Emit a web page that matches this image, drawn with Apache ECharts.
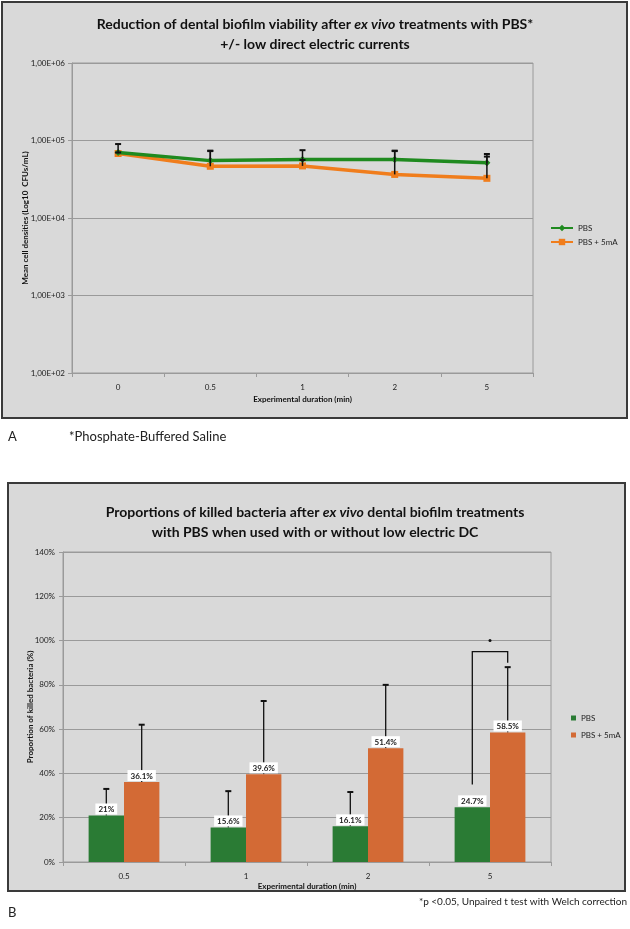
<!DOCTYPE html>
<html><head><meta charset="utf-8">
<script src="https://cdn.jsdelivr.net/npm/echarts@6/dist/echarts.min.js"></script>
<style>html,body{margin:0;padding:0;background:#fff}#c{width:630px;height:929px}</style>
</head><body><div id="c"></div>
<script>
// ---- Chart A data ----
const catsA = ['0', '0.5', '1', '2', '5'];
const pbsA = [70000, 55000, 57000, 57000, 51500];
const mAA = [68000, 46500, 47000, 36500, 32500];
const pbsAErrHigh = [90000, 74000, 75000, 74000, 67000];
const mAAErrHigh = [70000, 73000, 56000, 73000, 62000];
const yTicksA = [100, 1000, 10000, 100000, 1000000];

// ---- Chart B data ----
const catsB = ['0.5', '1', '2', '5'];
const pbsB = [21, 15.6, 16.1, 24.7];
const mAB = [36.1, 39.6, 51.4, 58.5];
const pbsBErrHigh = [33, 32, 31.6, null];
const mABErrHigh = [62, 72.7, 80, 88];
const sigBracket = [3, 35, 95, 90]; // category index, green start, bracket top, orange end (percent)
const sigStar = 100;

const FONT = 'Lato';
const GREEN_L = '#1f8a1f', ORANGE_L = '#f07d1c';
const GREEN_B = '#2a7b34', ORANGE_B = '#d36a35';
const GRID = '#9a9a9a';

const chart = echarts.init(document.getElementById('c'));

function fmtSci(v) {
  const e = Math.round(Math.log10(v));
  return '1,00E+' + (e < 10 ? '0' + e : e);
}

const errA = [];
pbsA.forEach((v, i) => errA.push([i, v, pbsAErrHigh[i]]));
mAA.forEach((v, i) => errA.push([i, v, mAAErrHigh[i]]));

function errRenderA(params, api) {
  const x = api.value(0);
  const p1 = api.coord([x, api.value(1)]);
  const p2 = api.coord([x, api.value(2)]);
  return { type: 'group', children: [
    { type: 'line', shape: { x1: p1[0], y1: p1[1], x2: p2[0], y2: p2[1] }, style: { stroke: '#111', lineWidth: 1.5 } },
    { type: 'line', shape: { x1: p2[0] - 3, y1: p2[1], x2: p2[0] + 3, y2: p2[1] }, style: { stroke: '#111', lineWidth: 2 } }
  ]};
}

const errB = [];
pbsB.forEach((v, i) => { if (pbsBErrHigh[i] != null) errB.push([i, v, pbsBErrHigh[i], -1]); });
mAB.forEach((v, i) => { if (mABErrHigh[i] != null) errB.push([i, v, mABErrHigh[i], 1]); });
const GAP = 0.42;

function errRenderB(params, api) {
  const x = api.value(0);
  const band = api.size([1, 0])[0];
  const off = api.value(3) * band * (1 - GAP) / 4;
  const p1 = api.coord([x, api.value(1)]);
  const p2 = api.coord([x, api.value(2)]);
  const cx = p1[0] + off;
  return { type: 'group', children: [
    { type: 'line', shape: { x1: cx, y1: p1[1], x2: cx, y2: p2[1] }, style: { stroke: '#111', lineWidth: 1.3 } },
    { type: 'line', shape: { x1: cx - 3, y1: p2[1], x2: cx + 3, y2: p2[1] }, style: { stroke: '#111', lineWidth: 2 } }
  ]};
}

function bracketRender(params, api) {
  const x = api.value(0);
  const band = api.size([1, 0])[0];
  const off = band * (1 - GAP) / 4;
  const c = api.coord([x, api.value(1)]);
  const yTop = api.coord([x, api.value(2)])[1];
  const yEnd = api.coord([x, api.value(3)])[1];
  const yStar = api.coord([x, sigStar])[1];
  const gx = c[0] - off, ox = c[0] + off;
  return { type: 'group', children: [
    { type: 'polyline', shape: { points: [[gx, c[1]], [gx, yTop], [ox, yTop], [ox, yEnd]] }, style: { stroke: '#111', lineWidth: 1.3, fill: null } },
    { type: 'circle', shape: { cx: c[0], cy: yStar, r: 1.5 }, style: { fill: '#111' } }
  ]};
}

const titleRich = {
  b: { fontFamily: FONT, fontWeight: 'bold', fontSize: 14, fill: '#111' },
  i: { fontFamily: FONT, fontWeight: 'bold', fontStyle: 'italic', fontSize: 14, fill: '#111' }
};
function titleText(txt, x, y) {
  return { type: 'text', z: 10, style: { text: txt, x: x, y: y, align: 'center', textAlign: 'center', verticalAlign: 'middle', rich: titleRich, fill: '#111', font: 'bold 14px ' + FONT } };
}

const option = {
  animation: false,
  textStyle: { fontFamily: FONT },
  graphic: [
    { type: 'rect', z: -10, shape: { x: 2, y: 2, width: 625, height: 416 }, style: { fill: '#d9d9d9', stroke: '#3a3a3a', lineWidth: 2 } },
    { type: 'rect', z: -10, shape: { x: 8, y: 483, width: 617, height: 408 }, style: { fill: '#d9d9d9', stroke: '#3a3a3a', lineWidth: 2 } },
    titleText('{b|Reduction of dental biofilm viability after }{i|ex vivo}{b| treatments with PBS*}', 315, 24),
    titleText('{b|+/- low direct electric currents}', 315, 44),
    titleText('{b|Proportions of killed bacteria after }{i|ex vivo}{b| dental biofilm treatments}', 315, 512),
    titleText('{b|with PBS when used with or without low electric DC}', 315, 532),
    { type: 'text', style: { text: 'A', x: 8, y: 437, verticalAlign: 'middle', font: '13px ' + FONT, fill: '#222' } },
    { type: 'text', style: { text: '*Phosphate-Buffered Saline', x: 69, y: 437, verticalAlign: 'middle', font: '13px ' + FONT, fill: '#222' } },
    { type: 'text', style: { text: 'B', x: 8, y: 913, verticalAlign: 'middle', font: '13px ' + FONT, fill: '#222' } },
    { type: 'text', style: { text: '*p <0.05, Unpaired t test with Welch correction', x: 627, y: 902, align: 'right', textAlign: 'right', verticalAlign: 'middle', font: '10px ' + FONT, fill: '#222' } }
  ],
  legend: [
    { orient: 'vertical', left: 545, top: 219, itemGap: 6, itemWidth: 22, itemHeight: 8,
      textStyle: { fontSize: 8, color: '#222', fontFamily: FONT }, data: ['PBS', 'PBS + 5mA'] },
    { orient: 'vertical', left: 566, top: 709, itemGap: 9, itemWidth: 5, itemHeight: 5, icon: 'rect',
      textStyle: { fontSize: 8, color: '#222', fontFamily: FONT }, data: ['PBS ', 'PBS + 5mA '] }
  ],
  grid: [
    { left: 72, right: 97, top: 63, bottom: 556, show: true, borderColor: GRID, borderWidth: 1, backgroundColor: 'transparent' },
    { left: 63, right: 79, top: 552, bottom: 67, show: true, borderColor: GRID, borderWidth: 1, backgroundColor: 'transparent' }
  ],
  xAxis: [
    { gridIndex: 0, type: 'category', data: catsA, boundaryGap: true,
      axisLine: { lineStyle: { color: GRID } }, axisTick: { show: true, length: 4, lineStyle: { color: GRID } },
      axisLabel: { color: '#222', fontSize: 8, margin: 10 },
      name: 'Experimental duration (min)', nameLocation: 'middle', nameGap: 22,
      nameTextStyle: { fontSize: 8, fontWeight: 'bold', color: '#111' } },
    { gridIndex: 1, type: 'category', data: catsB, boundaryGap: true,
      axisLine: { lineStyle: { color: GRID } }, axisTick: { show: true, length: 4, lineStyle: { color: GRID } },
      axisLabel: { color: '#222', fontSize: 8, margin: 10 },
      name: 'Experimental duration (min)', nameLocation: 'middle', nameGap: 20,
      nameTextStyle: { fontSize: 8, fontWeight: 'bold', color: '#111' } }
  ],
  yAxis: [
    { gridIndex: 0, type: 'log', logBase: 10, min: yTicksA[0], max: yTicksA[yTicksA.length - 1],
      axisLine: { show: true, lineStyle: { color: GRID } }, axisTick: { show: true, length: 4, lineStyle: { color: GRID } },
      splitLine: { lineStyle: { color: GRID, width: 1.2 } },
      axisLabel: { color: '#222', fontSize: 8, formatter: fmtSci, margin: 7 },
      name: 'Mean cell densities (Log10  CFUs/mL)', nameLocation: 'middle', nameGap: 43, nameMoveOverlap: false,
      nameTextStyle: { fontSize: 8, fontWeight: 'bold', color: '#111' } },
    { gridIndex: 1, type: 'value', min: 0, max: 140, interval: 20,
      axisLine: { show: true, lineStyle: { color: GRID } }, axisTick: { show: true, length: 4, lineStyle: { color: GRID } },
      splitLine: { lineStyle: { color: GRID, width: 1.2 } },
      axisLabel: { color: '#222', fontSize: 8, formatter: '{value}%', margin: 8 },
      name: 'Proportion of killed bacteria (%)', nameLocation: 'middle', nameGap: 29, nameMoveOverlap: false,
      nameTextStyle: { fontSize: 8, fontWeight: 'bold', color: '#111' } }
  ],
  series: [
    { type: 'custom', xAxisIndex: 0, yAxisIndex: 0, z: 5, renderItem: errRenderA, data: errA, silent: true },
    { name: 'PBS', type: 'line', xAxisIndex: 0, yAxisIndex: 0, data: pbsA, z: 4,
      symbol: 'diamond', symbolSize: 7, lineStyle: { color: GREEN_L, width: 3.5 }, itemStyle: { color: GREEN_L } },
    { name: 'PBS + 5mA', type: 'line', xAxisIndex: 0, yAxisIndex: 0, data: mAA, z: 3,
      symbol: 'rect', symbolSize: 7, lineStyle: { color: ORANGE_L, width: 3.5 }, itemStyle: { color: ORANGE_L } },
    { type: 'custom', xAxisIndex: 1, yAxisIndex: 1, z: 1, renderItem: errRenderB, data: errB, silent: true },
    { type: 'custom', xAxisIndex: 1, yAxisIndex: 1, z: 1, renderItem: bracketRender, data: [sigBracket], silent: true },
    { name: 'PBS ', type: 'bar', xAxisIndex: 1, yAxisIndex: 1, data: pbsB, z: 2,
      barGap: '0%', barCategoryGap: (GAP * 100) + '%', itemStyle: { color: GREEN_B },
      label: { show: true, position: 'top', distance: 1, formatter: '{c}%', backgroundColor: '#fff', padding: [2, 3, 1, 3],
        fontSize: 8, fontWeight: 'bold', color: '#222' } },
    { name: 'PBS + 5mA ', type: 'bar', xAxisIndex: 1, yAxisIndex: 1, data: mAB, z: 2,
      barGap: '0%', barCategoryGap: (GAP * 100) + '%', itemStyle: { color: ORANGE_B },
      label: { show: true, position: 'top', distance: 1, formatter: '{c}%', backgroundColor: '#fff', padding: [2, 3, 1, 3],
        fontSize: 8, fontWeight: 'bold', color: '#222' } }
  ]
};
chart.setOption(option);
</script>
</body></html>
